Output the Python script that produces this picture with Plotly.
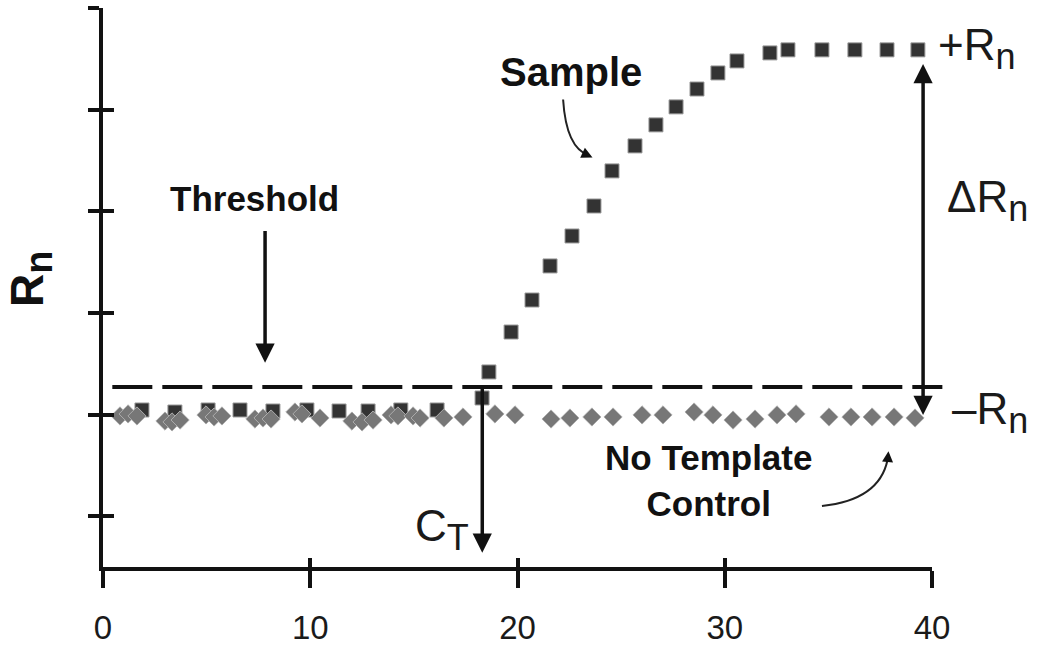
import plotly.graph_objects as go

# Amplification plot: reporter signal (Rn) against PCR cycle number
sample_cycle = [1.88, 3.47, 5.07, 6.61, 8.20, 9.84, 11.39, 12.79, 14.37, 16.12,
                18.29, 18.62, 19.69, 20.70, 21.57, 22.63, 23.69, 24.56, 25.67,
                26.68, 27.65, 28.66, 29.67, 30.59, 32.18, 33.05, 34.69, 36.28,
                37.83, 39.32]
sample_rn = [1.045, 1.025, 1.045, 1.045, 1.035, 1.045, 1.035, 1.035, 1.045, 1.045,
             1.163, 1.419, 1.812, 2.127, 2.462, 2.757, 3.052, 3.397, 3.643,
             3.850, 4.027, 4.203, 4.361, 4.479, 4.558, 4.588, 4.588, 4.588,
             4.588, 4.588]

ntc_cycle = [0.82, 1.21, 1.64, 2.99, 3.33, 3.72, 4.97, 5.36, 5.74, 7.33, 7.72, 8.11,
             9.26, 9.60, 10.47, 12.01, 12.50, 13.03, 13.90, 14.23, 14.96, 15.30,
             16.45, 17.37, 18.91, 19.88, 21.62, 22.53, 23.59, 24.61, 26.01, 27.02,
             28.52, 29.43, 30.40, 31.46, 32.52, 33.44, 35.03, 36.09, 37.11, 38.17,
             39.18]
ntc_rn = [0.986, 1.006, 0.986, 0.936, 0.927, 0.946, 0.996, 0.976, 0.986, 0.956,
          0.966, 0.956, 1.025, 1.006, 0.966, 0.936, 0.927, 0.946, 0.996, 0.986,
          0.986, 0.966, 0.966, 0.976, 1.006, 0.996, 0.956, 0.966, 0.976, 0.976,
          0.996, 0.996, 1.025, 0.996, 0.946, 0.956, 0.996, 1.006, 0.976, 0.976,
          0.976, 0.976, 0.966]

threshold = 1.272
ct_cycle = 18.3
rn_baseline = 1.0
rn_plateau = 4.588

x_ticks = [0, 10, 20, 30, 40]
x_tick_labels = ["0", "10", "20", "30", "40"]
y_ticks = [0, 1, 2, 3, 4, 5]

X_RANGE = [0, 40]
Y_RANGE = [-0.5, 5]

FONT = "Liberation Sans, Arial, sans-serif"
INK = "#111111"


def xpaper(cycle):
    """Cycle value expressed as a fraction of the x-axis span."""
    return (cycle - X_RANGE[0]) / (X_RANGE[1] - X_RANGE[0])


def ypaper(rn):
    """Rn value expressed as a fraction of the y-axis span."""
    return (rn - Y_RANGE[0]) / (Y_RANGE[1] - Y_RANGE[0])


def big_sub(s, px):
    """Subscript drawn larger than plotly's default 70 %."""
    return '<sub><span style="font-size:%dpx">%s</span></sub>' % (px, s)


fig = go.Figure()

fig.add_trace(go.Scatter(
    x=sample_cycle, y=sample_rn, mode="markers", cliponaxis=False,
    marker=dict(symbol="square", size=14, color="#333333",
                line=dict(width=1, color="#9a9a9a")),
    hoverinfo="skip", showlegend=False,
))
fig.add_trace(go.Scatter(
    x=ntc_cycle, y=ntc_rn, mode="markers", cliponaxis=False,
    xaxis="x2", yaxis="y2",
    marker=dict(symbol="diamond", size=14, color="#777777",
                line=dict(width=1, color="#ababab")),
    hoverinfo="skip", showlegend=False,
))

axis_common = dict(showgrid=False, zeroline=False, tickcolor=INK, tickwidth=4,
                   automargin=False)

fig.update_layout(
    width=1040, height=651,
    margin=dict(l=103, r=108, t=8, b=84),
    paper_bgcolor="white", plot_bgcolor="white",
    font=dict(family=FONT, color=INK),
    xaxis=dict(range=X_RANGE, tickvals=x_ticks, ticktext=x_tick_labels,
               ticks="outside", ticklen=17, showline=True, linewidth=4,
               linecolor=INK, tickfont=dict(size=33, color="#1a1a1a"),
               ticklabelstandoff=11, **axis_common),
    yaxis=dict(range=Y_RANGE, tickvals=y_ticks, showticklabels=False,
               ticks="outside", ticklen=11, showline=True, linewidth=4,
               linecolor=INK, **axis_common),
    xaxis2=dict(range=X_RANGE, overlaying="x", anchor="y2", side="bottom",
                tickvals=x_ticks, showticklabels=False, ticks="inside",
                ticklen=9, showline=False, **axis_common),
    yaxis2=dict(range=Y_RANGE, overlaying="y", anchor="x2", side="left",
                tickvals=y_ticks, showticklabels=False, ticks="inside",
                ticklen=11, showline=False, **axis_common),
)

# dashed threshold line, running a little past the last cycle
fig.add_shape(type="line", xref="x domain", yref="y",
              x0=xpaper(0.45), x1=xpaper(40.5), y0=threshold, y1=threshold,
              line=dict(color=INK, width=4, dash="40px,10px"))

# curved pointer strokes
fig.add_shape(type="path", xref="x", yref="y",
              path="M 22.2,4.10 Q 22.35,3.62 23.45,3.55",
              line=dict(color="#222222", width=2))
fig.add_shape(type="path", xref="x", yref="y",
              path="M 34.69,0.10 Q 37.45,0.16 37.85,0.55",
              line=dict(color="#222222", width=2))

arrow = dict(showarrow=True, axref="x", ayref="y", xref="x", yref="y",
             text="", arrowcolor=INK, arrowhead=2, arrowsize=1.1)

annotations = [
    # threshold pointer
    dict(x=7.82, y=1.51, ax=7.82, ay=2.82, arrowwidth=3.5, **arrow),
    # Ct drop line
    dict(x=ct_cycle, y=-0.36, ax=ct_cycle, ay=threshold, arrowwidth=3.5, **arrow),
    # delta Rn span
    dict(x=39.57, y=rn_plateau - 0.14, ax=39.57, ay=rn_baseline - 0.02,
         arrowwidth=3.5, arrowside="end+start", **arrow),
    # heads of the curved pointers
    dict(x=23.62, y=3.53, ax=23.2, ay=3.57, arrowwidth=2, **arrow),
    dict(x=37.9, y=0.64, ax=37.85, ay=0.52, arrowwidth=2, **arrow),
]

text_items = [
    dict(x=7.33, y=3.13, text="<b>Threshold</b>", size=35),
    dict(x=22.58, y=4.37, text="<b>Sample</b>", size=40),
    dict(x=29.2, y=0.35, text="<b>No Template<br>Control</b>", size=35),
]
for t in text_items:
    annotations.append(dict(x=t["x"], y=t["y"], xref="x", yref="y",
                            text=t["text"], showarrow=False,
                            xanchor="center", yanchor="middle",
                            font=dict(size=t["size"], color=INK, family=FONT)))

side_labels = [
    dict(x=40.2, y=4.60, text="+R" + big_sub("n", 36), anchor="left"),
    dict(x=40.65, y=3.11, text="\u0394R" + big_sub("n", 36), anchor="left"),
    dict(x=40.85, y=1.02, text="\u2013R" + big_sub("n", 36), anchor="left"),
    dict(x=17.75, y=-0.13, text="C" + big_sub("T", 36), anchor="right"),
]
for s in side_labels:
    annotations.append(dict(x=xpaper(s["x"]), y=ypaper(s["y"]),
                            xref="paper", yref="paper",
                            text=s["text"], showarrow=False,
                            xanchor=s["anchor"], yanchor="middle",
                            font=dict(size=44, color="#1a1a1a", family=FONT)))

annotations.append(dict(x=-0.087, y=0.515, xref="paper", yref="paper",
                        text="<b>R" + big_sub("n", 38) + "</b>", showarrow=False,
                        textangle=-90, xanchor="center", yanchor="middle",
                        font=dict(size=46, color=INK, family=FONT)))

fig.update_layout(annotations=annotations)

fig.write_html("out.html")
